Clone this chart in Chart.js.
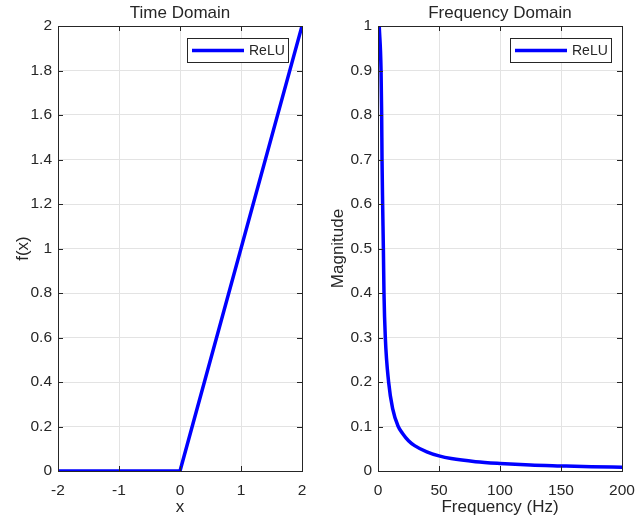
<!DOCTYPE html>
<html lang="en">
<head>
  <meta charset="UTF-8" />
  <title>ReLU: Time and Frequency Domain</title>
  <script src="https://cdn.jsdelivr.net/npm/chart.js"></script>
  <style>
    body { margin: 0; background: #fff; }
    .wrap { position: relative; width: 636px; height: 524px; }
    canvas { position: absolute; top: 0; }
    #timeChart { left: 0; }
    #freqChart { left: 318px; }
  </style>
</head>
<body>
  <div class="wrap">
    <canvas id="timeChart" width="318" height="524"></canvas>
    <canvas id="freqChart" width="318" height="524"></canvas>
  </div>

  <script>
    // time domain: ReLU corners
    const timeX = [-2, 0, 2];
    const timeY = [0, 0, 2];

    // frequency domain: magnitude
    const freqHz = [1, 2.5, 3, 3.3, 3.8, 4.4, 4.9, 6, 8.7, 12, 16.6, 20, 25, 30, 40, 50, 60, 80, 100, 125, 150, 175, 200];
    const freqMag = [1, 0.9, 0.8, 0.7, 0.6, 0.5, 0.4, 0.3, 0.2, 0.14, 0.1, 0.085, 0.068, 0.057, 0.043, 0.034, 0.028, 0.021, 0.017, 0.0135, 0.0115, 0.0097, 0.0085];

    const seriesLabel = 'ReLU';
    const ink = '#262626';
    const family = "'Liberation Sans', Arial, sans-serif";

    Chart.defaults.font.family = family;
    Chart.defaults.color = ink;

    const fmt = v => String(+Number(v).toFixed(2));

    // title centred over the axes, like MATLAB
    const axesTitle = {
      id: 'axesTitle',
      afterDraw(chart, args, opts) {
        const { ctx, chartArea: a } = chart;
        ctx.save();
        ctx.font = '17px ' + family;
        ctx.fillStyle = ink;
        ctx.textAlign = 'center';
        ctx.textBaseline = 'middle';
        ctx.fillText(opts.text, (a.left + a.right) / 2, 13.5);
        ctx.restore();
      }
    };

    // box with inward ticks
    const axesBox = {
      id: 'axesBox',
      afterDraw(chart) {
        const { ctx, chartArea: a, scales } = chart;
        ctx.save();
        ctx.strokeStyle = ink;
        ctx.lineWidth = 1;
        ctx.beginPath();
        scales.x.ticks.forEach(t => {
          const px = Math.round(scales.x.getPixelForValue(t.value)) + 0.5;
          ctx.moveTo(px, a.bottom); ctx.lineTo(px, a.bottom - 5);
          ctx.moveTo(px, a.top); ctx.lineTo(px, a.top + 5);
        });
        scales.y.ticks.forEach(t => {
          const py = Math.round(scales.y.getPixelForValue(t.value)) + 0.5;
          ctx.moveTo(a.left, py); ctx.lineTo(a.left + 5, py);
          ctx.moveTo(a.right, py); ctx.lineTo(a.right - 5, py);
        });
        ctx.stroke();
        ctx.strokeRect(Math.round(a.left) + 0.5, Math.round(a.top) + 0.5,
                       Math.round(a.right - a.left), Math.round(a.bottom - a.top));
        ctx.restore();
      }
    };

    // legend box inside the axes, top right
    const boxLegend = {
      id: 'boxLegend',
      afterDatasetsDraw(chart, args, opts) {
        const { ctx, chartArea: a } = chart;
        const ds = chart.data.datasets[0];
        ctx.save();
        ctx.font = '14px ' + family;
        const tw = ctx.measureText(ds.label).width;
        const w = Math.round(62 + tw + 3), h = 24;
        const x = Math.round(a.right - opts.right - w), y = Math.round(a.top + 12);
        ctx.fillStyle = '#fff';
        ctx.fillRect(x, y, w, h);
        ctx.strokeStyle = ink;
        ctx.lineWidth = 1;
        ctx.strokeRect(x + 0.5, y + 0.5, w, h);
        ctx.strokeStyle = ds.borderColor;
        ctx.lineWidth = 3.5;
        ctx.beginPath();
        ctx.moveTo(x + 5, y + h / 2 + 0.5);
        ctx.lineTo(x + 57, y + h / 2 + 0.5);
        ctx.stroke();
        ctx.fillStyle = ink;
        ctx.textBaseline = 'middle';
        ctx.fillText(ds.label, x + 62, y + h / 2 + 1);
        ctx.restore();
      }
    };

    function makeChart(id, cfg) {
      return new Chart(document.getElementById(id), {
        type: 'line',
        data: {
          datasets: [{
            label: seriesLabel,
            data: cfg.points,
            borderColor: '#0000ff',
            backgroundColor: '#0000ff',
            borderWidth: 3.5,
            pointRadius: 0,
            cubicInterpolationMode: cfg.smooth ? 'monotone' : 'default',
            tension: 0
          }]
        },
        options: {
          responsive: false,
          animation: false,
          layout: { padding: { left: 0, right: cfg.padRight, top: 26, bottom: 0 } },
          plugins: {
            legend: { display: false },
            tooltip: { enabled: false },
            title: { display: false },
            axesTitle: { text: cfg.title },
            boxLegend: { right: cfg.legendRight }
          },
          scales: {
            x: {
              type: 'linear',
              min: cfg.xMin, max: cfg.xMax,
              afterFit: s => { s.height = 53; s.paddingLeft = 0; s.paddingRight = 0; },
              grid: { color: '#e3e3e3', drawTicks: false },
              border: { display: false },
              ticks: { stepSize: cfg.xStep, padding: 10, font: { size: 15.5 }, callback: fmt, maxRotation: 0 },
              title: { display: true, text: cfg.xTitle, font: { size: 17 }, padding: { top: 0, bottom: 6 } }
            },
            y: {
              min: cfg.yMin, max: cfg.yMax,
              afterFit: s => { s.width = cfg.yWidth; s.paddingTop = 0; s.paddingBottom = 0; },
              grid: { color: '#e3e3e3', drawTicks: false },
              border: { display: false },
              ticks: { stepSize: cfg.yStep, padding: 6, font: { size: 15.5 }, callback: fmt },
              title: { display: true, text: cfg.yTitle, font: { size: 17 }, padding: { top: cfg.yTitlePad, bottom: 0 } }
            }
          }
        },
        plugins: [axesBox, boxLegend, axesTitle]
      });
    }

    makeChart('timeChart', {
      title: 'Time Domain',
      points: timeX.map((x, i) => ({ x, y: timeY[i] })),
      smooth: false,
      xMin: -2, xMax: 2, xStep: 1,
      yMin: 0, yMax: 2, yStep: 0.2,
      xTitle: 'x', yTitle: 'f(x)',
      yWidth: 58, yTitlePad: 12.8, padRight: 16, legendRight: 14
    });

    makeChart('freqChart', {
      title: 'Frequency Domain',
      points: freqHz.map((x, i) => ({ x, y: freqMag[i] })),
      smooth: true,
      xMin: 0, xMax: 200, xStep: 50,
      yMin: 0, yMax: 1, yStep: 0.1,
      xTitle: 'Frequency (Hz)', yTitle: 'Magnitude',
      yWidth: 60, yTitlePad: 10.3, padRight: 14, legendRight: 11
    });
  </script>
</body>
</html>
